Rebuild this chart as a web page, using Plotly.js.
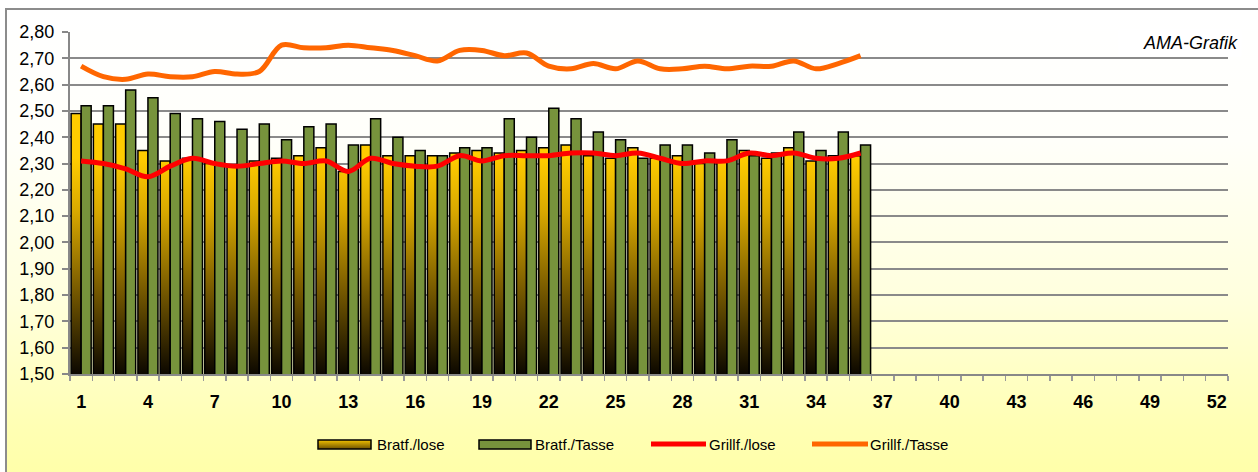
<!DOCTYPE html>
<html>
<head>
<meta charset="utf-8">
<script src="https://cdn.plot.ly/plotly-3.0.1.min.js"></script>
<style>
  html, body { margin: 0; padding: 0; background: #ffffff; }
  #wrap { position: relative; width: 1258px; height: 472px; overflow: hidden; background: #ffffff; }
  #frame { position: absolute; left: 5px; top: 8px; width: 1300px; height: 520px;
           border: 2px solid #8c8c8c;
           background: linear-gradient(to bottom, #ffffff 0%, #fffffa 25%, #ffffde 55%, #ffffb4 80%, #ffff9c 100%); }
  #chart { position: absolute; left: 0; top: 0; width: 1258px; height: 472px; }
</style>
</head>
<body>
<div id="wrap">
  <div id="frame"></div>
  <div id="chart"></div>
</div>
<script>
// ---- data ----
const weeks = [1,2,3,4,5,6,7,8,9,10,11,12,13,14,15,16,17,18,19,20,21,22,23,24,25,26,27,28,29,30,31,32,33,34,35,36];
const bratfLose  = [2.49,2.45,2.45,2.35,2.31,2.32,2.30,2.29,2.31,2.32,2.33,2.36,2.27,2.37,2.33,2.33,2.33,2.34,2.35,2.34,2.35,2.36,2.37,2.33,2.32,2.36,2.32,2.33,2.30,2.31,2.35,2.32,2.36,2.31,2.33,2.33];
const bratfTasse = [2.52,2.52,2.58,2.55,2.49,2.47,2.46,2.43,2.45,2.39,2.44,2.45,2.37,2.47,2.40,2.35,2.33,2.36,2.36,2.47,2.40,2.51,2.47,2.42,2.39,2.32,2.37,2.37,2.34,2.39,2.33,2.34,2.42,2.35,2.42,2.37];
const grillfLose = [2.31,2.30,2.28,2.25,2.29,2.32,2.30,2.29,2.30,2.31,2.30,2.31,2.27,2.32,2.30,2.29,2.29,2.33,2.31,2.33,2.33,2.33,2.34,2.34,2.33,2.34,2.32,2.30,2.31,2.31,2.34,2.33,2.34,2.32,2.32,2.34];
const grillfTasse = [2.67,2.63,2.62,2.64,2.63,2.63,2.65,2.64,2.65,2.75,2.74,2.74,2.75,2.74,2.73,2.71,2.69,2.73,2.73,2.71,2.72,2.67,2.66,2.68,2.66,2.69,2.66,2.66,2.67,2.66,2.67,2.67,2.69,2.66,2.68,2.71];
const seriesNames = ["Bratf./lose", "Bratf./Tasse", "Grillf./lose", "Grillf./Tasse"];
const xTickStart = 1, xTickStep = 3, xMax = 52;
const yMin = 1.5, yMax = 2.8, yStep = 0.1;
const sourceNote = "AMA-Grafik";

// ---- layout helpers ----
const W = 1258, H = 472, ML = 70, MR = 30, MT = 32, MB = 98;
const PW = W - ML - MR, PH = H - MT - MB;
const px = v => (v - ML) / PW;
const py = v => (H - MB - v) / PH;

const yellow = "#FFCC00", green = "#77933C", red = "#FF0000", orange = "#FF6600";

const traces = [
  { type: "bar", x: weeks, y: bratfLose, name: seriesNames[0],
    marker: { color: yellow, line: { color: "#000000", width: 1.5 } } },
  { type: "bar", x: weeks, y: bratfTasse, name: seriesNames[1],
    marker: { color: green, line: { color: "#000000", width: 1.5 } } },
  { type: "scatter", mode: "lines", x: weeks, y: grillfLose, name: seriesNames[2],
    line: { color: red, width: 5, shape: "spline", smoothing: 1 } },
  { type: "scatter", mode: "lines", x: weeks, y: grillfTasse, name: seriesNames[3],
    line: { color: orange, width: 5, shape: "spline", smoothing: 1 } }
];

const legY = 444;
const shapes = [
  { type: "rect", xref: "paper", yref: "paper", x0: px(318), x1: px(371), y0: py(449), y1: py(440),
    fillcolor: "#D0A400", line: { color: "#000000", width: 1.5 } },
  { type: "rect", xref: "paper", yref: "paper", x0: px(479), x1: px(531), y0: py(449), y1: py(440),
    fillcolor: green, line: { color: "#000000", width: 1.5 } },
  { type: "line", xref: "paper", yref: "paper", x0: px(651), x1: px(706), y0: py(legY), y1: py(legY),
    line: { color: red, width: 5 } },
  { type: "line", xref: "paper", yref: "paper", x0: px(812), x1: px(868), y0: py(legY), y1: py(legY),
    line: { color: orange, width: 5 } }
];
const legFont = { family: "Arial, Liberation Sans, sans-serif", size: 15, color: "#000000" };
const legTextX = [375, 533, 707, 868];
const annotations = seriesNames.map((n, i) => ({
  xref: "paper", yref: "paper", x: px(legTextX[i]), y: py(legY), xanchor: "left", yanchor: "middle",
  text: n, showarrow: false, font: legFont
}));
annotations.push({
  xref: "paper", yref: "paper", x: px(1242), y: py(43), xanchor: "right", yanchor: "middle",
  text: "<i>" + sourceNote + "</i>", showarrow: false, bgcolor: "#ffffff", borderpad: 3,
  width: 116, align: "right",
  font: { family: "Arial, Liberation Sans, sans-serif", size: 18, color: "#000000" }
});

const layout = {
  width: W, height: H,
  margin: { l: ML, r: MR, t: MT, b: MB, pad: 0 },
  paper_bgcolor: "rgba(0,0,0,0)", plot_bgcolor: "rgba(0,0,0,0)",
  separators: ",.",
  showlegend: false,
  barmode: "group", bargap: 0.1, bargroupgap: 0,
  font: { family: "Arial, Liberation Sans, sans-serif", color: "#000000" },
  xaxis: {
    type: "linear", range: [0.5, xMax + 0.5], tick0: xTickStart, dtick: xTickStep,
    ticks: "", showgrid: false, zeroline: false,
    showline: true, linecolor: "#888888", linewidth: 2,
    tickfont: { family: "Arial, Liberation Sans, sans-serif", size: 18, color: "#000000", weight: "bold" },
    ticklabelstandoff: 10,
    minor: { ticks: "outside", tick0: 0.5, dtick: 1, ticklen: 5, tickwidth: 1.5, tickcolor: "#999999", showgrid: false }
  },
  yaxis: {
    range: [yMin, yMax], tick0: yMin, dtick: yStep, tickformat: ".2f",
    ticks: "outside", ticklen: 6, tickwidth: 2, tickcolor: "#888888",
    showgrid: true, gridcolor: "#8a8a8a", gridwidth: 2, zeroline: false,
    showline: true, linecolor: "#888888", linewidth: 2,
    tickfont: { family: "Arial, Liberation Sans, sans-serif", size: 18, color: "#000000" },
    ticklabelstandoff: 4
  },
  shapes: shapes,
  annotations: annotations
};

Plotly.newPlot("chart", traces, layout, { staticPlot: true, displayModeBar: false }).then(gd => {
  const ya = gd._fullLayout.yaxis;
  const svg = gd.querySelector("svg.main-svg");
  const NS = "http://www.w3.org/2000/svg";
  let defs = svg.querySelector("defs");
  if (!defs) { defs = document.createElementNS(NS, "defs"); svg.insertBefore(defs, svg.firstChild); }
  function grad(id, units, y1, y2, stops) {
    const g = document.createElementNS(NS, "linearGradient");
    g.setAttribute("id", id);
    g.setAttribute("gradientUnits", units);
    g.setAttribute("x1", 0); g.setAttribute("x2", 0);
    g.setAttribute("y1", y1); g.setAttribute("y2", y2);
    stops.forEach(s => {
      const st = document.createElementNS(NS, "stop");
      st.setAttribute("offset", s[0]); st.setAttribute("stop-color", s[1]);
      g.appendChild(st);
    });
    defs.appendChild(g);
  }
  grad("yelBarGrad", "userSpaceOnUse", ya.l2p(2.32), ya.l2p(1.5),
       [[0, "#FFCC00"], [0.25, "#D8A800"], [0.6, "#7A5C00"], [1, "#0c0800"]]);
  grad("yelLegGrad", "objectBoundingBox", 0, 1,
       [[0, "#F2C200"], [1, "#6E5200"]]);
  const barTraces = gd.querySelectorAll(".barlayer .trace");
  if (barTraces.length) {
    barTraces[0].querySelectorAll("path").forEach(p => { p.style.fill = "url(#yelBarGrad)"; });
  }
  const shp = gd.querySelectorAll(".shapelayer path");
  if (shp.length) { shp[0].style.fill = "url(#yelLegGrad)"; shp[0].style.fillOpacity = 1; }
});
</script>
</body>
</html>
